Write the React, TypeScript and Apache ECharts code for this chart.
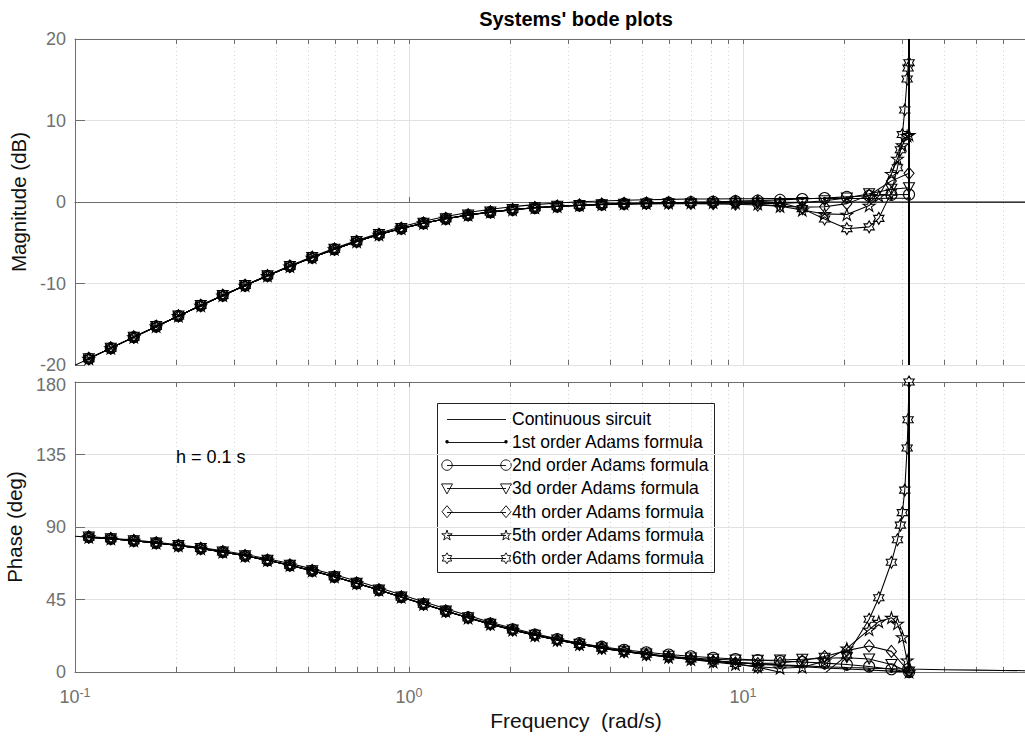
import React, { useEffect, useRef } from 'react';
import * as echarts from 'echarts';

// Bode plots of s/(s+1) and its Adams-Bashforth discretisations, step h = 0.1 s.

// Shared frequency grid (rad/s) of the discrete responses
const freqBase = [
  0.110, 0.128, 0.150, 0.175, 0.204, 0.238, 0.277, 0.323, 0.377, 0.440,
  0.513, 0.598, 0.697, 0.813, 0.948, 1.105, 1.289, 1.503, 1.752, 2.043,
  2.382, 2.778, 3.239, 3.777, 4.404, 5.135, 5.988, 6.982, 8.142, 9.494,
  11.07, 12.91, 15.05, 17.55, 20.46,
];
const contHeadFreq = [0.1];
const contTailFreq = [23.86, 27.82, 31.416, 40, 50, 60, 70, 85, 100];
const lowOrderTailFreq = [23.86, 27.82, 31.416];
const order5TailFreq = [23.86, 25.5, 27.82, 29.0, 30.0, 31.0, 31.416];
const order6TailFreq = [23.86, 25.5, 27.82, 29.0, 29.6, 30.0, 30.5, 31.0, 31.2, 31.416];

// Nyquist frequency pi/h
const NYQUIST = 31.416;

// Continuous circuit
const contHeadMag = [-20.04];
const contHeadPhase = [84.29];
const contMag = [
  -19.22, -17.93, -16.58, -15.27, -13.98, -12.71, -11.47, -10.25, -9.05, -7.90,
  -6.81, -5.79, -4.86, -4.00, -3.25, -2.60, -2.05, -1.59, -1.22, -0.93,
  -0.71, -0.53, -0.40, -0.29, -0.22, -0.16, -0.12, -0.09, -0.07, -0.05,
  -0.04, -0.03, -0.02, -0.01, -0.01,
];
const contPhase = [
  83.72, 82.71, 81.47, 80.07, 78.47, 76.61, 74.52, 72.10, 69.34, 66.25,
  62.84, 59.12, 55.12, 50.89, 46.53, 42.14, 37.81, 33.64, 29.71, 26.08,
  22.77, 19.80, 17.16, 14.83, 12.79, 11.02, 9.48, 8.15, 7.00, 6.01,
  5.16, 4.43, 3.80, 3.26, 2.80,
];
const contTailMag = [-0.01, -0.01, 0, 0, 0, 0, 0, 0, 0];
const contTailPhase = [2.40, 2.06, 1.82, 1.43, 1.15, 0.95, 0.82, 0.67, 0.57];

// 1st order Adams formula
const ab1Mag = [
  -19.22, -17.92, -16.57, -15.26, -13.97, -12.69, -11.44, -10.21, -9.00, -7.83,
  -6.72, -5.68, -4.71, -3.83, -3.04, -2.36, -1.77, -1.29, -0.89, -0.57,
  -0.32, -0.13, 0.02, 0.13, 0.21, 0.28, 0.32, 0.36, 0.38, 0.40,
  0.41, 0.42, 0.43, 0.44, 0.44, 0.44, 0.45, 0.45,
];
const ab1Phase = [
  84.03, 83.07, 81.89, 80.56, 79.03, 77.26, 75.26, 72.94, 70.30, 67.31,
  64.01, 60.40, 56.49, 52.31, 47.99, 43.61, 39.23, 35.00, 30.93, 27.18,
  23.74, 20.63, 17.86, 15.40, 13.23, 11.34, 9.68, 8.23, 6.96, 5.85,
  4.87, 4.00, 3.22, 2.51, 1.84, 1.20, 0.55, 0.00,
];

// 2nd order: follows the continuous values up to 1.289 rad/s
const ab2MagHigh = [
  -1.61, -1.25, -0.96, -0.73, -0.55, -0.42, -0.31, -0.21, -0.14, -0.08,
  -0.02, 0.03, 0.10, 0.17, 0.26, 0.36, 0.49, 0.63, 0.77, 0.88, 0.91,
];
const ab2PhaseHigh = [
  33.88, 30.05, 26.49, 23.28, 20.41, 17.89, 15.70, 13.81, 12.21, 10.86,
  9.73, 8.80, 8.02, 7.36, 6.77, 6.18, 5.51, 4.62, 3.39, 1.69, 0.00,
];

// 3rd order: follows the continuous values up to 2.778 rad/s
const ab3MagHigh = [
  -0.42, -0.34, -0.27, -0.24, -0.22, -0.21, -0.22, -0.22, -0.21, -0.17,
  -0.06, 0.15, 0.50, 1.02, 1.56, 1.76,
];
const ab3PhaseHigh = [
  17.17, 14.87, 12.89, 11.21, 9.82, 8.71, 7.91, 7.42, 7.27, 7.46,
  7.96, 8.58, 8.90, 8.03, 4.72, 0.00,
];

// 4th order: follows the continuous values up to 3.777 rad/s
const ab4MagHigh = [
  -0.23, -0.18, -0.16, -0.17, -0.20, -0.27, -0.38, -0.52, -0.63, -0.59,
  -0.20, 0.83, 2.59, 3.52,
];
const ab4PhaseHigh = [
  12.66, 10.81, 9.19, 7.78, 6.60, 5.71, 5.29, 5.60, 6.96, 9.61,
  13.27, 16.20, 12.80, 0.00,
];

// 5th order: follows the continuous values up to 3.777 rad/s
const ab5MagHigh = [
  -0.20, -0.15, -0.10, -0.07, -0.06, -0.10, -0.24, -0.53, -0.99, -1.46,
  -1.54, -0.44, 0.76, 3.46, 5.33, 6.97, 8.10, 8.23,
];
const ab5PhaseHigh = [
  12.72, 10.93, 9.28, 7.75, 6.26, 4.74, 3.27, 2.32, 2.96, 6.70,
  14.69, 26.31, 31.22, 33.70, 30.04, 21.71, 7.26, 0.00,
];

// 6th order: follows the continuous values up to 3.777 rad/s
const ab6MagHigh = [
  -0.20, -0.15, -0.10, -0.05, 0.01, 0.08, 0.11, -0.09, -0.81, -2.09,
  -3.27, -3.05, -2.01, 1.20, 4.20, 6.40, 8.27, 11.29, 15.09, 16.45, 17.08,
];
const ab6PhaseHigh = [
  12.82, 11.05, 9.51, 8.13, 6.80, 5.23, 2.99, -0.18, -2.88, -0.86,
  10.37, 32.74, 46.10, 68.12, 82.07, 91.16, 98.91, 112.89, 139.06, 156.52, 180.00,
];

// Minor grid positions of the logarithmic frequency axis
const minorFreqs = [
  0.2, 0.3, 0.4, 0.5, 0.6, 0.7, 0.8, 0.9,
  2, 3, 4, 5, 6, 7, 8, 9,
  20, 30, 40, 50, 60, 70, 80, 90,
];

// Decade exponents that carry a tick label
const labelledDecades = [-1, 0, 1];

const legendLabels = [
  'Continuous sircuit',
  '1st order Adams formula',
  '2nd order Adams formula',
  '3d order Adams formula',
  '4th order Adams formula',
  '5th order Adams formula',
  '6th order Adams formula',
];

const FONT = '"Liberation Sans", Arial, Helvetica, sans-serif';
const AXIS = '#6e6e6e';
const LABEL = '#707070';
const GRID = '#e2e2e2';
const MINOR_GRID = '#d4d4d4';
const INK = '#000000';
const STROKE_W = 1.05;

function zip(f: number[], v: number[]) {
  return f.map((x, i) => [x, v[i]]);
}

function starPts(n: number, inner: number, cx: number, cy: number, R: number) {
  const pts: number[][] = [];
  for (let i = 0; i < 2 * n; i++) {
    const r = i % 2 === 0 ? R : R * inner;
    const a = -Math.PI / 2 + (i * Math.PI) / n;
    pts.push([cx + r * Math.cos(a), cy + r * Math.sin(a)]);
  }
  return pts;
}

function starPath(n: number, inner: number) {
  const pts = starPts(n, inner, 0, 0, 10);
  return 'path://M' + pts.map((p) => p[0].toFixed(3) + ',' + p[1].toFixed(3)).join('L') + 'Z';
}

const PENTAGRAM = starPath(5, 0.382);
const HEXAGRAM = starPath(6, 0.577);

type MarkerStyle = { symbol: string; size: number | number[]; rotate?: number; filled?: boolean };

const markers: MarkerStyle[] = [
  { symbol: 'none', size: 0 },
  { symbol: 'circle', size: 3.5, filled: true },
  { symbol: 'circle', size: 11 },
  { symbol: 'triangle', size: [11, 10], rotate: 180 },
  { symbol: 'diamond', size: [10, 12] },
  { symbol: PENTAGRAM, size: 12 },
  { symbol: HEXAGRAM, size: 12 },
];

function lineSeries(name: string, xi: number, yi: number, data: number[][], m: MarkerStyle, extra: any = {}) {
  return {
    type: 'line',
    name,
    xAxisIndex: xi,
    yAxisIndex: yi,
    data,
    symbol: m.symbol,
    symbolSize: m.size,
    symbolRotate: m.rotate || 0,
    symbolKeepAspect: true,
    showSymbol: m.symbol !== 'none',
    showAllSymbol: true,
    clip: true,
    lineStyle: { color: INK, width: STROKE_W },
    itemStyle: m.filled
      ? { color: INK, borderWidth: 0 }
      : { color: 'rgba(0,0,0,0)', borderColor: INK, borderWidth: STROKE_W },
    emphasis: { disabled: true },
    silent: true,
    z: 3,
    ...extra,
  };
}

function minorSeries(xi: number, yi: number, yRef: number) {
  return {
    type: 'custom',
    xAxisIndex: xi,
    yAxisIndex: yi,
    silent: true,
    z: 1,
    data: minorFreqs.map((f) => [f, yRef]),
    renderItem: (params: any, api: any) => {
      const x = Math.round(api.coord([api.value(0), yRef])[0]) + 0.5;
      const cs = params.coordSys;
      const top = cs.y;
      const bottom = cs.y + cs.height;
      return {
        type: 'group',
        children: [
          { type: 'line', shape: { x1: x, y1: top, x2: x, y2: bottom }, style: { stroke: MINOR_GRID, lineWidth: 1, lineDash: [1, 3] } },
          { type: 'line', shape: { x1: x, y1: top, x2: x, y2: top + 5 }, style: { stroke: AXIS, lineWidth: 1 } },
          { type: 'line', shape: { x1: x, y1: bottom, x2: x, y2: bottom - 5 }, style: { stroke: AXIS, lineWidth: 1 } },
        ],
      };
    },
  };
}

function freqAxis(grid: number, position: 'top' | 'bottom', labels: boolean, split: boolean) {
  return {
    gridIndex: grid,
    type: 'log',
    logBase: 10,
    min: 0.1,
    max: 100,
    position,
    axisLine: { show: true, lineStyle: { color: AXIS, width: 1 } },
    axisTick: { show: true, inside: true, length: 5, lineStyle: { color: AXIS } },
    splitLine: { show: split, lineStyle: { color: GRID, width: 1 } },
    axisLabel: labels
      ? {
          show: true,
          margin: 14,
          formatter: (v: number) => {
            const e = Math.round(Math.log10(v));
            if (Math.abs(Math.log10(v) - e) > 1e-6) return '';
            if (labelledDecades.indexOf(e) < 0) return '';
            return '{b|10}{s|' + e + '}';
          },
          rich: {
            b: { fontSize: 18, fontFamily: FONT, color: LABEL, verticalAlign: 'bottom', lineHeight: 20 },
            s: { fontSize: 12.5, fontFamily: FONT, color: LABEL, verticalAlign: 'top', lineHeight: 20 },
          },
        }
      : { show: false },
    ...(labels
      ? {
          name: 'Frequency  (rad/s)',
          nameLocation: 'middle',
          nameGap: 38,
          nameTextStyle: { fontSize: 21, fontFamily: FONT, color: '#111' },
        }
      : {}),
  };
}

function valueAxis(
  grid: number,
  min: number,
  max: number,
  interval: number,
  name: string,
  nameGap: number,
  topLabelDrop: number,
) {
  const tick = { fontSize: 18, fontFamily: FONT, color: LABEL };
  return {
    gridIndex: grid,
    type: 'value',
    min,
    max,
    interval,
    position: 'left',
    axisLine: { show: true, lineStyle: { color: AXIS, width: 1 } },
    axisTick: { show: true, inside: true, length: 10, lineStyle: { color: AXIS } },
    splitLine: { show: true, lineStyle: { color: GRID, width: 1 } },
    axisLabel: {
      show: true,
      margin: 9,
      ...tick,
      formatter: (v: number) => (v === max && topLabelDrop > 0 ? '{t|' + v + '}' : '{n|' + v + '}'),
      rich: {
        n: { ...tick, lineHeight: 16 },
        t: { ...tick, lineHeight: 16, padding: [topLabelDrop * 2, 0, 0, 0] },
      },
    },
    name,
    nameLocation: 'middle',
    nameGap,
    nameTextStyle: { fontSize: 20.5, fontFamily: FONT, color: '#111' },
  };
}

function legendGraphic() {
  const boxX = 437;
  const boxY = 403;
  const boxW = 277;
  const boxH = 169;
  const rowY0 = 418.5;
  const rowStep = 23.3;
  const x1 = 447;
  const x2 = 506;
  const textX = 512;
  const children: any[] = [
    { type: 'rect', shape: { x: boxX + 0.5, y: boxY + 0.5, width: boxW, height: boxH }, style: { fill: '#fff', stroke: '#222', lineWidth: 1 } },
  ];
  const stroke = { fill: 'none', stroke: INK, lineWidth: 0.9 };
  const markerAt = (row: number, cx: number, cy: number) => {
    switch (row) {
      case 1:
        return { type: 'circle', shape: { cx, cy, r: 1.7 }, style: { fill: INK } };
      case 2:
        return { type: 'circle', shape: { cx, cy, r: 5.2 }, style: stroke };
      case 3:
        return { type: 'polygon', shape: { points: [[cx - 5.5, cy - 4.5], [cx + 5.5, cy - 4.5], [cx, cy + 5.5]] }, style: stroke };
      case 4:
        return { type: 'polygon', shape: { points: [[cx, cy - 6], [cx + 5, cy], [cx, cy + 6], [cx - 5, cy]] }, style: stroke };
      case 5:
        return { type: 'polygon', shape: { points: starPts(5, 0.382, cx, cy + 0.5, 5.5) }, style: stroke };
      case 6:
        return { type: 'polygon', shape: { points: starPts(6, 0.577, cx, cy, 5.5) }, style: stroke };
      default:
        return null;
    }
  };
  legendLabels.forEach((label, row) => {
    const y = rowY0 + row * rowStep;
    const ly = Math.round(y) + 0.5;
    children.push({ type: 'line', shape: { x1, y1: ly, x2, y2: ly }, style: { stroke: INK, lineWidth: 0.9 } });
    const a = markerAt(row, x1, y);
    const b = markerAt(row, x2, y);
    if (a) children.push(a);
    if (b) children.push(b);
    children.push({
      type: 'text',
      x: textX,
      y,
      style: { text: label, font: '17.5px ' + FONT, fill: INK, align: 'left', verticalAlign: 'middle' },
    });
  });
  return { type: 'group', z: 100, children };
}

function buildOption() {
  const contFreq = [...contHeadFreq, ...freqBase, ...contTailFreq];
  const lowFreq = [...freqBase, ...lowOrderTailFreq];
  const freq5 = [...freqBase, ...order5TailFreq];
  const freq6 = [...freqBase, ...order6TailFreq];

  const mags = [
    zip(contFreq, [...contHeadMag, ...contMag, ...contTailMag]),
    zip(lowFreq, ab1Mag),
    zip(lowFreq, [...contMag.slice(0, 17), ...ab2MagHigh]),
    zip(lowFreq, [...contMag.slice(0, 22), ...ab3MagHigh]),
    zip(lowFreq, [...contMag.slice(0, 24), ...ab4MagHigh]),
    zip(freq5, [...contMag.slice(0, 24), ...ab5MagHigh]),
    zip(freq6, [...contMag.slice(0, 24), ...ab6MagHigh]),
  ];
  const phases = [
    zip(contFreq, [...contHeadPhase, ...contPhase, ...contTailPhase]),
    zip(lowFreq, ab1Phase),
    zip(lowFreq, [...contPhase.slice(0, 17), ...ab2PhaseHigh]),
    zip(lowFreq, [...contPhase.slice(0, 22), ...ab3PhaseHigh]),
    zip(lowFreq, [...contPhase.slice(0, 24), ...ab4PhaseHigh]),
    zip(freq5, [...contPhase.slice(0, 24), ...ab5PhaseHigh]),
    zip(freq6, [...contPhase.slice(0, 24), ...ab6PhaseHigh]),
  ];

  const nyquistLine = {
    markLine: {
      silent: true,
      symbol: ['none', 'none'],
      label: { show: false },
      lineStyle: { color: INK, width: 2, type: 'solid' },
      data: [{ xAxis: NYQUIST }],
      animation: false,
    },
  };

  const series: any[] = [minorSeries(0, 0, 0), minorSeries(2, 1, 90)];
  mags.forEach((d, i) => {
    series.push(lineSeries(legendLabels[i], 0, 0, d, markers[i], i === 0 ? nyquistLine : {}));
  });
  phases.forEach((d, i) => {
    series.push(lineSeries(legendLabels[i], 2, 1, d, markers[i], i === 0 ? nyquistLine : {}));
  });

  return {
    animation: false,
    backgroundColor: '#ffffff',
    textStyle: { fontFamily: FONT },
    grid: [
      { left: 75, top: 39, width: 1002, height: 326, containLabel: false, outerBoundsMode: 'none' },
      { left: 75, top: 382, width: 1002, height: 290, containLabel: false, outerBoundsMode: 'none' },
    ],
    xAxis: [
      freqAxis(0, 'bottom', false, true),
      freqAxis(0, 'top', false, false),
      freqAxis(1, 'bottom', true, true),
      freqAxis(1, 'top', false, false),
    ],
    yAxis: [
      valueAxis(0, -20, 20, 10, 'Magnitude (dB)', 39, 0),
      valueAxis(1, 0, 180, 45, 'Phase (deg)', 48, 3),
    ],
    series,
    graphic: [
      {
        type: 'text',
        x: 576,
        y: 19,
        z: 100,
        style: { text: "Systems' bode plots", font: 'bold 20px ' + FONT, fill: INK, align: 'center', verticalAlign: 'middle' },
      },
      {
        type: 'text',
        x: 176,
        y: 457,
        z: 100,
        style: { text: 'h = 0.1 s', font: '18px ' + FONT, fill: INK, align: 'left', verticalAlign: 'middle' },
      },
      legendGraphic(),
    ],
  };
}

export default function App() {
  const ref = useRef<HTMLDivElement>(null);
  useEffect(() => {
    const el = ref.current;
    if (!el) return;
    const chart = echarts.init(el, undefined, { renderer: 'svg' });
    chart.setOption(buildOption() as any);
    return () => chart.dispose();
  }, []);
  return (
    <div
      ref={ref}
      style={{ position: 'absolute', left: 0, top: 0, width: 1025, height: 738, background: '#fff', overflow: 'hidden' }}
    />
  );
}
